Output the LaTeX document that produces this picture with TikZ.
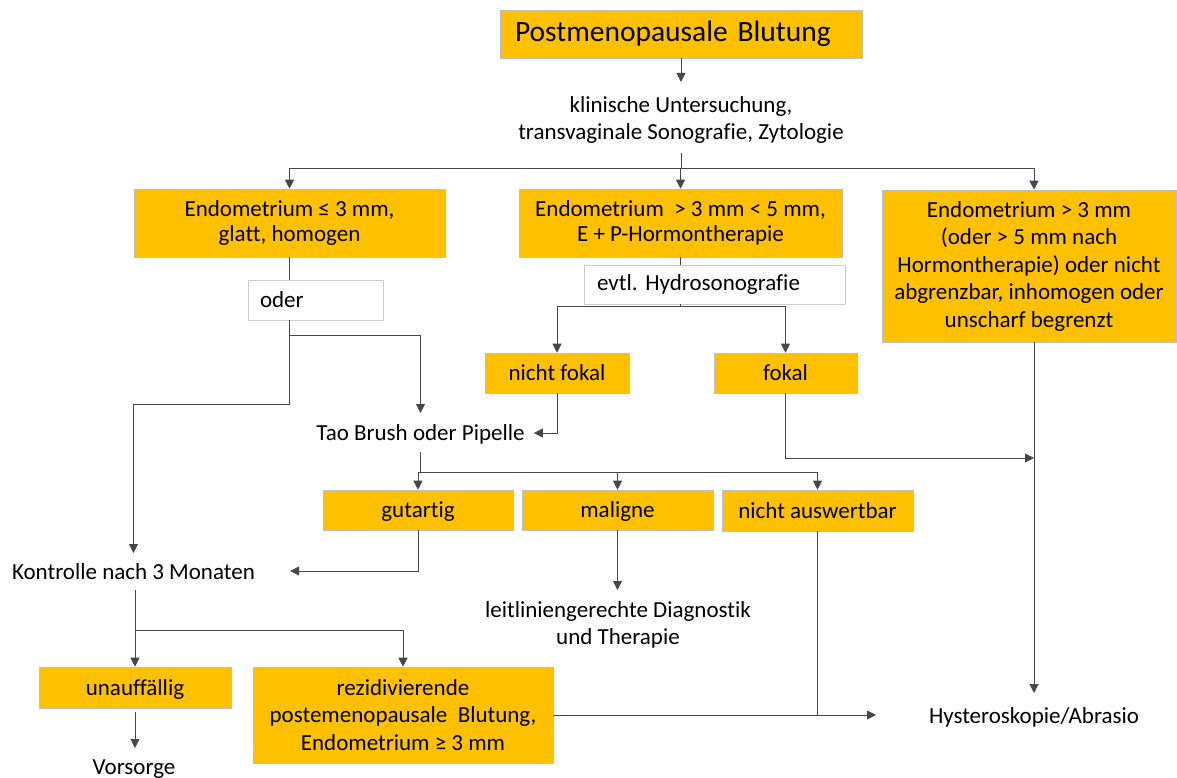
\documentclass[tikz,border=0pt]{standalone}
\usepackage{fontspec}
\setmainfont{Carlito}[Ligatures={NoCommon}]
\usetikzlibrary{arrows.meta}
\definecolor{gold}{HTML}{FFC000}
\newcommand{\bodyfont}{\fontsize{23}{27.5}\selectfont}
\newcommand{\titlefont}{\fontsize{29.5}{34}\selectfont}
\frenchspacing
\begin{document}
\begin{tikzpicture}[x=1pt,y=-1pt,
  ob/.style={fill=gold, draw=black!25, line width=0.6pt, inner sep=0pt, align=center, font=\bodyfont},
  one/.style={text height=18pt, text depth=3pt},
  wb/.style={fill=white, draw=black!20, line width=0.6pt, inner sep=0pt, font=\bodyfont},
  tx/.style={inner sep=0pt, align=center, font=\bodyfont},
  ln/.style={draw=black!72, line width=0.9pt},
  ar/.style={ln, -{Triangle[width=9pt,length=9pt]}},
]
\useasboundingbox[fill=white] (0,0) rectangle (1177,778);

% boxes
\node[ob, font=\titlefont, minimum height=48pt, text width=332pt, align=left, inner xsep=15pt] (T) at (681,34) {Postmenopausale Blutung};
\node[tx] (K) at (681,120) {klinische Untersuchung,\\transvaginale Sonografie, Zytologie};
\node[ob, minimum width=311pt, minimum height=68pt] (A) at (289.5,223) {\raisebox{-3pt}{Endometrium ≤ 3 mm,}\\glatt, homogen};
\node[ob, minimum width=323pt, minimum height=68pt] (B) at (680.5,223) {\raisebox{-3pt}{Endometrium \ > 3 mm < 5 mm,}\\E + P-Hormontherapie};
\node[ob, minimum width=294pt, minimum height=152pt] (C) at (1029,266) {Endometrium > 3 mm\\(oder > 5 mm nach\\Hormontherapie) oder nicht\\abgrenzbar, inhomogen oder\\unscharf begrenzt};
\node[wb, minimum height=40pt, text width=111pt, inner xsep=12pt, align=left] (O) at (315.5,300) {oder};
\node[wb, minimum height=39pt, text width=235pt, inner xsep=13pt, align=left] (H) at (714.5,284.5) {evtl.\ Hydrosonografie};
\node[ob, one, minimum width=144pt, minimum height=40pt] (NF) at (557,373) {nicht fokal};
\node[ob, one, minimum width=143pt, minimum height=40pt] (F) at (785.5,373) {fokal};
\node[tx] (Tb) at (420.5,434) {Tao Brush oder Pipelle};
\node[ob, one, minimum width=190pt, minimum height=40pt] (G) at (418,510) {gutartig};
\node[ob, one, minimum width=191pt, minimum height=40pt] (M) at (617.5,510) {maligne};
\node[ob, one, minimum width=191pt, minimum height=41pt] (N) at (817.5,510.5) {nicht auswertbar};
\node[tx] (Ko) at (133.5,572) {Kontrolle nach 3 Monaten};
\node[tx] (L) at (618,625) {leitliniengerechte Diagnostik\\und Therapie};
\node[ob, one, minimum width=192pt, minimum height=41pt] (U) at (135,687.5) {unauffällig};
\node[ob, minimum width=300pt, minimum height=96pt] (R) at (403,715) {rezidivierende\\postemenopausale \ Blutung,\\Endometrium ≥ 3 mm};
\node[tx] (Hy) at (1034,717) {Hysteroskopie/Abrasio};
\node[tx] (V) at (134,769) {Vorsorge};
\coordinate (hin) at (876,715);

% connectors
\draw[ar] (T.south) -- (T.south |- 0,82);
\draw[ln] (K.south |- 0,153) -- (K.south |- 0,168);
\draw[ln] (A.north |- 0,168) -- (Hy.north |- 0,168);
\draw[ar] (A.north |- 0,168) -- (A.north);
\draw[ar] (B.north |- 0,168) -- (B.north);
\draw[ar] (Hy.north |- 0,168) -- (Hy.north |- C.north);

\draw[ln] (A.south) -- (A.south |- O.north);
\draw[ar] (A.south |- O.south) -- (A.south |- 0,404) -| (Ko.north |- 0,553);
\draw[ar] (A.south |- 0,335) -| (Tb.north |- 0,413);

\draw[ln] (B.south) -- (B.south |- H.north);
\draw[ln] (B.south |- H.south) -- (B.south |- 0,306);
\draw[ar] (B.south |- 0,306) -| (NF.north);
\draw[ar] (B.south |- 0,306) -| (F.north);
\draw[ar] (NF.south) |- ([xshift=9pt,yshift=1pt]Tb.east);
\draw[ar] (F.south) |- (Hy.north |- 0,458);
\draw[ar] (Hy.north |- C.south) -- (Hy.north |- 0,693);

\draw[ln] (Tb.south |- 0,452) -- (Tb.south |- 0,472);
\draw[ln] (G.north |- 0,472) -- (N.north |- 0,472);
\draw[ar] (G.north |- 0,472) -- (G.north);
\draw[ar] (M.north |- 0,472) -- (M.north);
\draw[ar] (N.north |- 0,472) -- (N.north);

\draw[ar] (G.south) |- ([xshift=35pt,yshift=1pt]Ko.east);
\draw[ar] (M.south) -- (M.south |- 0,590);
\draw[ln] (N.south) -- (N.south |- 0,715);

\draw[ar] (U.north |- 0,590) -- (U.north);
\draw[ar] (U.north |- 0,630) -| (R.north);
\draw[ar] (U.south |- 0,712) -- (U.south |- 0,748);
\draw[ar] (R.east) -- (hin);
\end{tikzpicture}
\end{document}
